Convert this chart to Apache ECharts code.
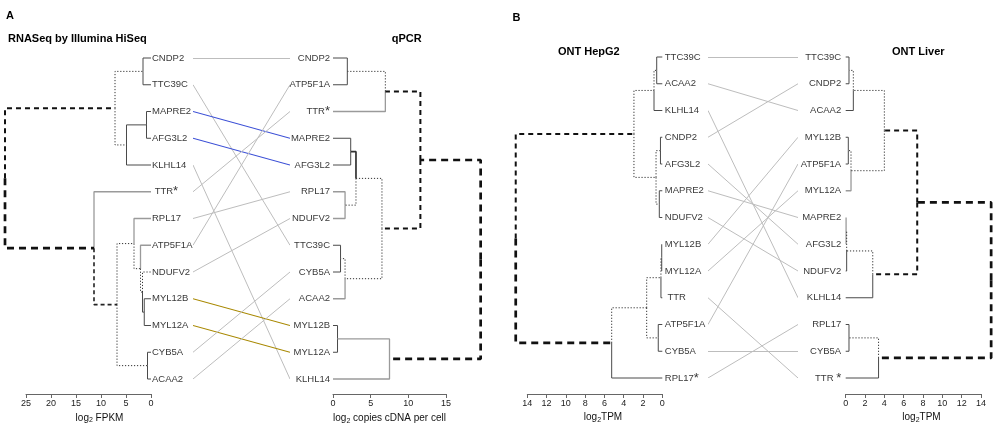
<!DOCTYPE html>
<html><head><meta charset="utf-8">
<script src="https://cdn.jsdelivr.net/npm/echarts@6/dist/echarts.min.js"></script>
<style>html,body{margin:0;padding:0;background:#fff}#c{width:1000px;height:439px}</style>
</head><body><div id="c"></div>
<script>
// ---------------- data ----------------
// Panel A, left tree: RNASeq by Illumina HiSeq (log2 FPKM)
const rnaseqLeaves = ['CNDP2','TTC39C','MAPRE2','AFG3L2','KLHL14',' TTR*','RPL17','ATP5F1A','NDUFV2','MYL12B','MYL12A','CYB5A','ACAA2'];
const rnaseqMerges = [['CNDP2','TTC39C',1.6],['MAPRE2','AFG3L2',0.9],[1,'KLHL14',4.9],[0,2,7.2],['MYL12B','MYL12A',1.35],['NDUFV2',4,1.7],['ATP5F1A',5,2.1],['RPL17',6,3.4],['CYB5A','ACAA2',0.7],[7,8,6.8],['TTR',9,11.4],[3,10,29.2]];
const rnaseqTicks = [0,5,10,15,20,25];
// Panel A, right tree: qPCR (log2 copies cDNA per cell)
const qpcrLeaves = ['CNDP2','ATP5F1A','TTR*','MAPRE2','AFG3L2','RPL17','NDUFV2','TTC39C','CYB5A','ACAA2','MYL12B','MYL12A','KLHL14'];
const qpcrMerges = [['CNDP2','ATP5F1A',1.9],[0,'TTR',6.95],['MAPRE2','AFG3L2',2.35],['RPL17','NDUFV2',1.6],[2,3,3.05],['TTC39C','CYB5A',1.0],[5,'ACAA2',1.6],[4,6,6.5],[1,7,11.6],['MYL12B','MYL12A',0.6],[9,'KLHL14',7.5],[8,10,19.6]];
const qpcrTicks = [0,5,10,15];
// Panel B, left tree: ONT HepG2 (log2 TPM)
const hepg2Leaves = ['TTC39C','ACAA2','KLHL14','CNDP2','AFG3L2','MAPRE2','NDUFV2','MYL12B','MYL12A',' TTR','ATP5F1A','CYB5A','RPL17*'];
const hepg2Merges = [['TTC39C','ACAA2',0.58],[0,'KLHL14',0.86],['CNDP2','AFG3L2',0.19],['MAPRE2','NDUFV2',0.31],[2,3,0.65],[1,4,2.94],['MYL12B','MYL12A',0.06],[6,'TTR',0.14],['ATP5F1A','CYB5A',0.42],[7,8,1.62],[9,'RPL17',5.25],[5,10,15.2]];
const hepg2Ticks = [0,2,4,6,8,10,12,14];
// Panel B, right tree: ONT Liver (log2 TPM)
const liverLeaves = ['TTC39C','CNDP2','ACAA2','MYL12B','ATP5F1A','MYL12A','MAPRE2','AFG3L2','NDUFV2','KLHL14','RPL17','CYB5A','TTR *'];
const liverMerges = [['TTC39C','CNDP2',0.34],[0,'ACAA2',0.79],['MYL12B','ATP5F1A',0.27],[2,'MYL12A',0.55],[1,3,4.0],['MAPRE2','AFG3L2',0.04],[5,'NDUFV2',0.1],[6,'KLHL14',2.8],[4,7,7.4],['RPL17','CYB5A',0.34],[9,'TTR',3.4],[8,10,15.05]];
const liverTicks = [0,2,4,6,8,10,12,14];

// ---------------- styles ----------------
const FONT = '"Liberation Sans", Arial, Helvetica, sans-serif';
const EDGE = {
  s:{color:'#4a4a4a',width:1,type:'solid'},
  g:{color:'#9a9a9a',width:1.3,type:'solid'},
  S:{color:'#333',width:1.7,type:'solid'},
  d:{color:'#333',width:1,type:[1.2,1.8]},
  D:{color:'#222',width:1.6,type:[4,3]},
  M:{color:'#111',width:2,type:[5,4]},
  T:{color:'#111',width:2.7,type:[7,5]}
};
const rnaseqEdgeStyle = ['ss','ss','ss','dd','ss','ds','gd','gd','ss','dd','gD','MT'];
const qpcrEdgeStyle   = ['ss','dg','ss','gg','Sd','ss','dg','dd','MM','ss','gg','TT'];
const hepg2EdgeStyle  = ['ss','ds','ss','ss','dd','dd','ss','ds','ss','dd','ds','MT'];
const liverEdgeStyle  = ['ss','ds','ss','dg','dd','gg','ds','ds','MM','ss','ds','TT'];
const connectColorsA = {MAPRE2:'#3b4fd6', AFG3L2:'#3b4fd6', MYL12B:'#a88800', MYL12A:'#a88800'};

const key = s => s.replace(/[\s*]/g,'');
function buildTree(leaves, merges){
  const rowOf = {}; leaves.forEach((l,i)=>rowOf[key(l)] = i);
  const pos = [];
  const get = c => typeof c === 'number' ? pos[c] : [0, rowOf[c]];
  const edges = [];
  merges.forEach((m,i)=>{
    const a = get(m[0]), b = get(m[1]); const h = m[2]; const y = (a[1]+b[1])/2;
    pos[i] = [h,y];
    [a,b].forEach((c,j)=>edges.push({i, j, pts:[[h,y],[h,c[1]],[c[0],c[1]]]}));
  });
  return {edges, rowOf};
}

const series = [];
function treeSeries(g, leaves, merges, styles, side, dist){
  const t = buildTree(leaves, merges);
  t.edges.forEach(e=>{
    const code = styles[e.i][e.j];
    series.push({type:'line', xAxisIndex:g, yAxisIndex:g, data:e.pts, symbol:'none', showSymbol:false,
      lineStyle:EDGE[code], clip:false, silent:true, animation:false, z:(code==='T'||code==='M')?4:3});
  });
  series.push({type:'scatter', xAxisIndex:g, yAxisIndex:g, symbol:'circle', symbolSize:0.01, itemStyle:{color:'#000'},
    data: leaves.map((l,i)=>[0,i,l]), silent:true, animation:false, clip:false,
    label:{show:true, position:side, distance:dist, color:'#000', fontFamily:FONT, fontSize:9.5,
      formatter:p=>{const n=p.data[2]; if(n.indexOf('*')>=0){return '{n|'+n.replace('*','')+'}{a|*}';} return '{n|'+n+'}';},
      rich:{n:{fontSize:9.5,fontFamily:FONT,color:'#000'}, a:{fontSize:13,fontFamily:FONT,color:'#000'}}}
  });
  return t.rowOf;
}
function connSeries(c, leftRows, rightRows, colors){
  const data = Object.keys(leftRows).map(k=>({coords:[[0,leftRows[k]],[1,rightRows[k]]],
    lineStyle:{color:(colors&&colors[k])||'#bdbdbd', width:(colors&&colors[k])?1.2:1, opacity:1}}));
  series.push({type:'lines', coordinateSystem:'cartesian2d', xAxisIndex:c, yAxisIndex:c, data, silent:true,
    animation:false, lineStyle:{opacity:1, curveness:0}, z:2});
}

const rA1 = treeSeries(0, rnaseqLeaves, rnaseqMerges, rnaseqEdgeStyle, 'right', 1);
const rA2 = treeSeries(1, qpcrLeaves, qpcrMerges, qpcrEdgeStyle, 'left', 3);
connSeries(2, rA1, rA2, connectColorsA);
const rB1 = treeSeries(3, hepg2Leaves, hepg2Merges, hepg2EdgeStyle, 'right', 2.5);
const rB2 = treeSeries(4, liverLeaves, liverMerges, liverEdgeStyle, 'left', 4.5);
connSeries(5, rB1, rB2, null);

// tree grids cover the whole tree extent; axis grids match only the tick range (same px per unit)
const gb = {containLabel:false, outerBoundsMode:'none', height:321};
const pxA1 = 125/25, pxA2 = 113/15, pxB1 = 135/14, pxB2 = 135.3/14;
const treeMax = [30, 20, 16, 16];
const grids = [
  Object.assign({left:151 - treeMax[0]*pxA1, top:58, width:treeMax[0]*pxA1}, gb),
  Object.assign({left:333, top:58, width:treeMax[1]*pxA2}, gb),
  Object.assign({left:193, top:58, width:97}, gb),
  Object.assign({left:662.3 - treeMax[2]*pxB1, top:57, width:treeMax[2]*pxB1}, gb),
  Object.assign({left:845.7, top:57, width:treeMax[3]*pxB2}, gb),
  Object.assign({left:708, top:57, width:90}, gb),
  Object.assign({left:26, top:58, width:125}, gb),
  Object.assign({left:333, top:58, width:113}, gb),
  Object.assign({left:527.3, top:57, width:135}, gb),
  Object.assign({left:845.7, top:57, width:135.3}, gb)
];
function axisX(g, ticks, inverse, offset){
  return {type:'value', gridIndex:g, min:ticks[0], max:ticks[ticks.length-1], interval:ticks[1]-ticks[0],
    inverse, position:'bottom', offset, splitLine:{show:false},
    axisLine:{show:true, onZero:false, lineStyle:{color:'#666', width:1}},
    axisTick:{show:true, length:4, lineStyle:{color:'#666'}},
    axisLabel:{show:true, fontSize:9, color:'#222', fontFamily:FONT, margin:5, showMinLabel:true, showMaxLabel:true}};
}
const hiddenX = (g, max, inverse) => ({type:'value', gridIndex:g, min:0, max, inverse:!!inverse, show:false});
const xAxes = [hiddenX(0, treeMax[0], true), hiddenX(1, treeMax[1]), hiddenX(2, 1),
               hiddenX(3, treeMax[2], true), hiddenX(4, treeMax[3]), hiddenX(5, 1),
               axisX(6, rnaseqTicks, true, 15), axisX(7, qpcrTicks, false, 15),
               axisX(8, hepg2Ticks, true, 16), axisX(9, liverTicks, false, 16)];
const yAxes = grids.map((g,i)=>({type:'value', gridIndex:i, min:0, max:12, inverse:true, show:false}));

function txt(text, x, y, opts){
  return {type:'text', x, y, silent:true, style:Object.assign({text, fill:'#000', fontFamily:FONT, fontSize:11,
    fontWeight:'bold', align:'left', verticalAlign:'middle', textAlign:'left', textVerticalAlign:'middle'}, opts||{})};
}
const subRich = {a:{fontSize:10, fontFamily:FONT, fill:'#111', color:'#111'}, s:{fontSize:7, fontFamily:FONT, fill:'#111', color:'#111', padding:[5,0,0,0]}};
const axTitle = (text, x, y) => txt(text, x, y, {fontWeight:'normal', fontSize:10, align:'center', textAlign:'center', rich:subRich});

const chart = echarts.init(document.getElementById('c'), null, {renderer:'canvas'});
chart.setOption({
  animation:false,
  backgroundColor:'#fff',
  grid:grids, xAxis:xAxes, yAxis:yAxes, series,
  graphic:[
    txt('A', 6, 16.3),
    txt('RNASeq by Illumina HiSeq', 8, 38.8),
    txt('qPCR', 391.7, 38.5),
    txt('B', 512.5, 18.3),
    txt('ONT HepG2', 558, 51.7),
    txt('ONT Liver', 892, 51.5),
    axTitle('{a|log}{s|2}{a| FPKM}', 99.5, 418),
    axTitle('{a|log}{s|2}{a| copies cDNA per cell}', 389.5, 418.5),
    axTitle('{a|log}{s|2}{a|TPM}', 603, 417.5),
    axTitle('{a|log}{s|2}{a|TPM}', 921.5, 417.5)
  ]
});
</script></body></html>
